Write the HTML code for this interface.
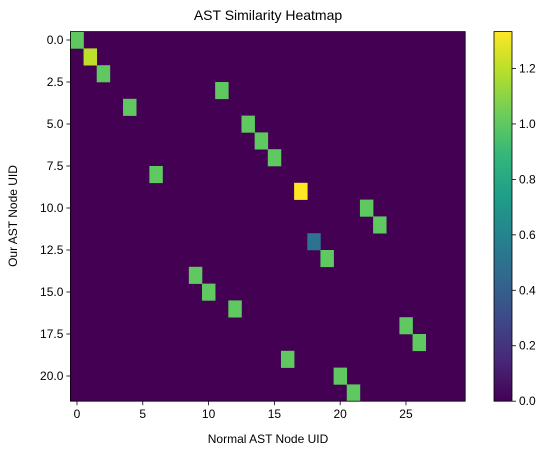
<!DOCTYPE html>
<html><head><meta charset="utf-8">
<style>
body{margin:0;background:#fff;}
svg text{font-family:"Liberation Sans","DejaVu Sans",sans-serif;fill:#000;}
</style></head>
<body>
<svg id="chart" width="551" height="455" viewBox="0 0 551 455" xmlns="http://www.w3.org/2000/svg">
<text x="268" y="20" font-size="14" text-anchor="middle">AST Similarity Heatmap</text>
<g id="plot"></g>
<g id="xaxis"></g>
<g id="yaxis"></g>
<g id="cbar"></g>
<text x="268" y="443" font-size="12" text-anchor="middle">Normal AST Node UID</text>
<text x="17" y="216" font-size="12" text-anchor="middle" transform="rotate(-90 17 216)">Our AST Node UID</text>
</svg>
<script>
const nRows = 22;
const nCols = 30;
const matchRows = [0,1,2,3,4,5,6,7,8,9,10,11,12,13,14,15,16,17,18,19,20,21];
const matchCols = [0,1,2,11,4,13,14,15,6,17,22,23,18,19,9,10,12,25,26,16,20,21];
const matchVals = [1.0,1.2,1.0,1.0,1.0,1.0,1.0,1.0,1.0,1.333,1.0,1.0,0.5,1.0,1.0,1.0,1.0,1.0,1.0,1.0,1.0,1.0];
const xTicks = [0,5,10,15,20,25];
const yTicks = [0,2.5,5,7.5,10,12.5,15,17.5,20];
const cbTicks = [0,0.2,0.4,0.6,0.8,1.0,1.2];
const vmin = 0, vmax = 1.333;

const NS="http://www.w3.org/2000/svg";
const L=70.4,T=31.6,W=394.8,H=369.6;
const cw=W/nCols, rh=H/nRows;
const xs=c=>L+(c+0.5)*cw;
const ys=r=>T+(r+0.5)*rh;
const vir=[[68,1,84],[72,40,120],[62,73,137],[49,104,142],[38,130,142],[31,158,137],[53,183,121],[109,205,89],[180,222,44],[253,231,37]];
function color(v){let t=Math.max(0,Math.min(1,(v-vmin)/(vmax-vmin)))*(vir.length-1);let i=Math.min(Math.floor(t),vir.length-2),f=t-i;const c=vir[i].map((a,k)=>Math.round(a+(vir[i+1][k]-a)*f));return `rgb(${c})`;}
function mk(tag,at,parent){const e=document.createElementNS(NS,tag);for(const k in at)e.setAttribute(k,at[k]);parent.appendChild(e);return e;}
const plot=document.getElementById('plot');
const bg=mk('rect',{x:L,y:T,width:W,height:H,fill:color(0)},plot);


matchRows.forEach((r,i)=>{
  const c=matchCols[i];
  const e=mk('rect',{x:xs(c)-cw/2,y:ys(r)-rh/2,width:cw+0.3,height:rh+0.3,fill:color(matchVals[i])},plot);
  
  
});
const fr=mk('rect',{x:L,y:T,width:W,height:H,fill:'none',stroke:'#000','stroke-width':0.8},plot);


const xa=document.getElementById('xaxis');
xTicks.forEach(t=>{
  mk('line',{x1:xs(t),x2:xs(t),y1:T+H,y2:T+H+4,stroke:'#000','stroke-width':0.8},xa);
  const tx=mk('text',{x:xs(t),y:T+H+17,'font-size':12,'text-anchor':'middle'},xa);
  tx.textContent=t;
  
  
});
const ya=document.getElementById('yaxis');
yTicks.forEach(t=>{
  mk('line',{x1:L-4,x2:L,y1:ys(t),y2:ys(t),stroke:'#000','stroke-width':0.8},ya);
  const tx=mk('text',{x:L-7,y:ys(t)+4,'font-size':12,'text-anchor':'end'},ya);
  tx.textContent=t.toFixed(1);
  
  
});
const cb=document.getElementById('cbar');
const CX=494,CW=18,CT=31.6,CH=369.6;
const defs=mk('defs',{},cb);
const g=mk('linearGradient',{id:'vg',x1:0,y1:1,x2:0,y2:0},defs);
vir.forEach((c,i)=>mk('stop',{offset:i/(vir.length-1),'stop-color':`rgb(${c})`},g));
const cr=mk('rect',{x:CX,y:CT,width:CW,height:CH,fill:'url(#vg)',stroke:'#000','stroke-width':0.8},cb);


const cy=v=>CT+CH-(v-vmin)/(vmax-vmin)*CH;
cbTicks.forEach(t=>{
  mk('line',{x1:CX+CW,x2:CX+CW+4,y1:cy(t),y2:cy(t),stroke:'#000','stroke-width':0.8},cb);
  const tx=mk('text',{x:CX+CW+7,y:cy(t)+4,'font-size':12},cb);
  tx.textContent=t.toFixed(1);
  
  
});
</script>
</body></html>
